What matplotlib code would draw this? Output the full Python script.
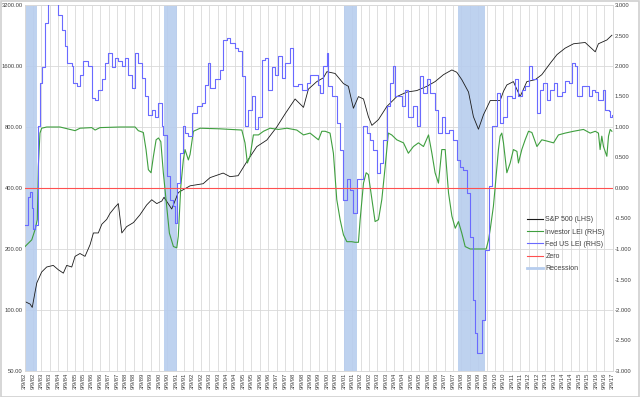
import matplotlib
matplotlib.use("Agg")
import matplotlib.pyplot as plt
from matplotlib.lines import Line2D
from matplotlib.patches import Rectangle
from matplotlib.ticker import FixedLocator, FuncFormatter, NullFormatter, NullLocator

plt.rcParams['font.family'] = ['Liberation Sans', 'DejaVu Sans']

# ---------------- data (decimal years) ----------------
spx_t = [1982.22, 1982.52, 1982.65, 1982.82, 1982.92, 1983.21, 1983.51, 1983.90, 1984.20, 1984.50,
         1984.70, 1985.00, 1985.20, 1985.49, 1985.79, 1986.09, 1986.29, 1986.58, 1986.79, 1987.08,
         1987.28, 1987.58, 1987.77, 1987.98, 1988.27, 1988.67, 1989.06, 1989.46, 1989.76, 1990.06,
         1990.36, 1990.49, 1990.95, 1991.34, 1992.04, 1992.82, 1993.23, 1994.01, 1994.42, 1994.90,
         1995.42, 1996.01, 1996.61, 1997.20, 1997.70, 1998.29, 1998.79, 1999.08, 1999.58, 1999.98,
         2000.18, 2000.67, 2001.17, 2001.46, 2001.76, 2002.06, 2002.36, 2002.65, 2002.86, 2003.25,
         2003.75, 2004.34, 2004.94, 2005.53, 2006.13, 2006.62, 2007.12, 2007.62, 2007.91, 2008.21,
         2008.61, 2008.90, 2009.20, 2009.50, 2009.66, 2009.90, 2010.49, 2010.69, 2010.89, 2011.28,
         2011.68, 2012.08, 2012.58, 2012.97, 2013.47, 2013.87, 2014.36, 2014.86, 2015.55, 2016.15,
         2016.34, 2016.84, 2017.14]
spx_v = [110, 107, 103, 123, 136, 154, 163, 166, 158, 152,
         166, 163, 184, 190, 184, 210, 240, 240, 265, 280,
         300, 322, 335, 240, 258, 270, 295, 330, 350, 335,
         345, 360, 315, 380, 410, 420, 450, 474, 455, 460,
         540, 640, 690, 800, 930, 1100, 1000, 1230, 1340, 1400,
         1500, 1470, 1310, 1270, 990, 1130, 1100, 900, 815, 870,
         1010, 1130, 1190, 1210, 1270, 1340, 1450, 1530, 1490, 1370,
         1190, 900, 780, 920, 980, 1080, 1080, 1200, 1290, 1340,
         1130, 1340, 1370, 1450, 1650, 1820, 1960, 2060, 2090, 1880,
         2060, 2150, 2270]

inv_t = [1982.22, 1982.62, 1982.82, 1982.95, 1983.01, 1983.11, 1983.21, 1983.51, 1984.30, 1984.89,
         1985.20, 1985.49, 1986.19, 1986.39, 1986.68, 1987.87, 1988.77, 1988.96, 1989.26, 1989.42,
         1989.56, 1989.72, 1989.86, 1990.02, 1990.16, 1990.30, 1990.45, 1990.65, 1990.81, 1991.05,
         1991.25, 1991.34, 1991.49, 1991.64, 1991.74, 1991.94, 1992.04, 1992.24, 1992.64, 1993.83,
         1995.12, 1995.31, 1995.45, 1995.61, 1995.81, 1996.11, 1996.41, 1996.80, 1997.30, 1997.80,
         1998.39, 1998.79, 1999.18, 1999.68, 1999.88, 2000.08, 2000.37, 2000.57, 2000.77, 2000.97,
         2001.17, 2001.37, 2001.66, 2001.86, 2002.06, 2002.16, 2002.36, 2002.52, 2002.65, 2002.86,
         2003.05, 2003.25, 2003.45, 2003.65, 2003.84, 2004.04, 2004.34, 2004.74, 2005.03, 2005.33,
         2005.63, 2005.93, 2006.23, 2006.43, 2006.62, 2006.82, 2007.02, 2007.22, 2007.42, 2007.62,
         2007.82, 2008.01, 2008.21, 2008.41, 2008.71, 2009.66, 2009.80, 2009.90, 2010.09, 2010.20,
         2010.39, 2010.49, 2010.59, 2010.69, 2010.89, 2011.09, 2011.28, 2011.49, 2011.58, 2011.78,
         2011.98, 2012.18, 2012.38, 2012.68, 2012.97, 2013.27, 2013.67, 2013.96, 2014.36, 2014.86,
         2015.45, 2015.85, 2016.15, 2016.34, 2016.44, 2016.54, 2016.64, 2016.84, 2016.94, 2017.04,
         2017.14]
inv_v = [-0.96, -0.85, -0.68, -0.52, 0.35, 0.90, 0.98, 1.00, 1.00, 0.96,
         0.94, 0.98, 0.99, 0.95, 0.99, 1.00, 1.00, 0.94, 0.91, 0.63,
         0.30, 0.25, 0.52, 0.79, 0.82, 0.76, 0.25, -0.30, -0.74, -0.96,
         -0.98, -0.79, 0.03, 0.46, 0.63, 0.46, 0.55, 0.93, 0.98, 0.97,
         0.95, 0.74, 0.41, 0.52, 0.87, 0.87, 0.93, 0.98, 0.96, 0.98,
         0.95, 0.87, 0.90, 0.79, 0.93, 0.93, 0.90, 0.57, -0.19, -0.52,
         -0.77, -0.88, -0.88, -0.89, -0.89, -0.52, 0.08, 0.25, 0.22, -0.19,
         -0.55, -0.52, -0.19, 0.35, 0.90, 0.87, 0.79, 0.74, 0.57, 0.68,
         0.74, 0.68, 0.87, 0.57, 0.25, 0.08, 0.63, 0.63, -0.08, -0.46,
         -0.66, -0.55, -0.74, -0.96, -1.00, -1.00, -0.85, -0.68, -0.30, 0.03,
         0.63, 0.85, 0.90, 0.74, 0.25, 0.41, 0.63, 0.60, 0.41, 0.63,
         0.79, 0.93, 0.91, 0.68, 0.79, 0.77, 0.74, 0.87, 0.90, 0.93,
         0.96, 0.90, 0.93, 0.90, 0.63, 0.85, 0.68, 0.52, 0.85, 0.96,
         0.93]

fed_t = [1982.22, 1982.42, 1982.52, 1982.62, 1982.71, 1982.82, 1983.01, 1983.11, 1983.21, 1983.41,
         1983.61, 1983.89, 1984.12, 1984.20, 1984.40, 1984.60, 1984.70, 1985.00, 1985.10, 1985.30,
         1985.49, 1985.69, 1985.99, 1986.19, 1986.39, 1986.58, 1986.79, 1986.98, 1987.18, 1987.38,
         1987.58, 1987.77, 1987.98, 1988.17, 1988.37, 1988.57, 1988.77, 1988.96, 1989.17, 1989.36,
         1989.56, 1989.76, 1989.96, 1990.16, 1990.36, 1990.45, 1990.65, 1990.85, 1991.05, 1991.15,
         1991.25, 1991.45, 1991.64, 1991.74, 1991.94, 1992.14, 1992.44, 1992.74, 1992.93, 1993.13,
         1993.23, 1993.53, 1993.83, 1994.02, 1994.22, 1994.42, 1994.72, 1994.92, 1995.12, 1995.31,
         1995.51, 1995.71, 1995.91, 1996.11, 1996.31, 1996.51, 1996.70, 1996.90, 1997.10, 1997.30,
         1997.50, 1997.70, 1997.99, 1998.19, 1998.49, 1998.69, 1998.99, 1999.18, 1999.48, 1999.68,
         1999.78, 1999.98, 2000.18, 2000.27, 2000.47, 2000.77, 2000.97, 2001.17, 2001.37, 2001.56,
         2001.76, 2001.96, 2002.16, 2002.36, 2002.56, 2002.75, 2002.95, 2003.15, 2003.35, 2003.55,
         2003.75, 2003.94, 2004.14, 2004.24, 2004.44, 2004.64, 2004.84, 2005.03, 2005.33, 2005.53,
         2005.73, 2005.93, 2006.13, 2006.33, 2006.62, 2006.82, 2007.02, 2007.22, 2007.42, 2007.71,
         2007.91, 2008.11, 2008.31, 2008.51, 2008.71, 2008.90, 2009.00, 2009.14, 2009.26, 2009.40,
         2009.60, 2009.80, 2010.00, 2010.30, 2010.49, 2010.69, 2010.89, 2011.19, 2011.39, 2011.58,
         2011.78, 2011.98, 2012.18, 2012.38, 2012.68, 2012.87, 2013.07, 2013.27, 2013.47, 2013.67,
         2013.87, 2014.17, 2014.36, 2014.56, 2014.76, 2014.96, 2015.06, 2015.36, 2015.55, 2015.75,
         2015.95, 2016.15, 2016.34, 2016.61, 2016.74, 2016.94, 2017.04, 2017.14]
fed_v = [-0.60, -0.14, -0.06, -0.33, -0.68, -0.60, 1.01, 1.72, 1.99, 2.70,
         3.10, 3.30, 3.10, 2.84, 2.59, 2.32, 2.05, 2.00, 1.72, 1.67,
         1.86, 2.08, 2.00, 1.48, 1.45, 1.61, 1.78, 2.05, 2.21, 1.98,
         2.13, 2.08, 2.00, 2.13, 1.86, 1.64, 2.21, 2.05, 1.80, 1.50,
         1.20, 1.28, 1.17, 1.39, 1.01, 0.87, 0.19, -0.19, -0.30, -0.57,
         0.08, 0.57, 1.01, 0.90, 0.85, 1.23, 1.34, 1.39, 1.69, 2.05,
         1.64, 1.78, 1.94, 2.43, 2.46, 2.38, 2.30, 2.25, 1.83, 1.01,
         1.28, 1.50, 0.96, 1.17, 2.10, 2.13, 1.61, 1.98, 1.85, 2.16,
         1.80, 2.05, 2.30, 1.67, 1.70, 1.61, 1.72, 1.86, 1.86, 1.69,
         1.56, 2.00, 2.21, 1.67, 1.50, 1.07, 0.63, -0.19, 0.14, -0.03,
         -0.41, 0.14, 0.14, 1.01, 0.90, 0.79, 0.63, 0.25, 0.41, 0.79,
         1.34, 1.72, 2.00, 1.50, 1.50, 1.34, 1.61, 1.17, 1.34, 1.01,
         1.83, 1.56, 1.78, 1.56, 1.28, 0.90, 1.17, 0.90, 0.95, 0.79,
         0.46, 0.35, 0.30, -0.08, -0.80, -1.83, -2.38, -2.71, -2.71, -2.16,
         -1.01, 0.03, 1.01, 1.56, 1.07, 1.17, 1.50, 1.48, 1.78, 1.50,
         1.60, 1.67, 2.00, 1.78, 1.23, 1.61, 1.72, 1.45, 1.61, 1.72,
         1.50, 1.58, 1.75, 1.72, 2.05, 2.00, 1.50, 1.67, 1.67, 1.50,
         1.61, 1.58, 1.45, 1.61, 1.28, 1.26, 1.17, 1.20]

rec_start = [1982.19, 1990.51, 2001.21, 2007.99]
rec_end = [1982.95, 1991.29, 2001.99, 2009.60]

left_ticks = [50, 100, 200, 400, 800, 1600, 3200]
right_ticks = [-3.0, -2.5, -2.0, -1.5, -1.0, -0.5, 0.0, 0.5, 1.0, 1.5, 2.0, 2.5, 3.0]
first_year, last_year = 1982, 2017

# ---------------- styling ----------------
C_SPX = "#1a1a1a"
C_INV = "#3f9f3f"
C_FED = "#6a6aff"
C_ZERO = "#ff5050"
C_REC = "#b7cdee"
C_GRID = "#d9d9d9"
C_TXT = "#404040"
FS = 4.2

fig = plt.figure(figsize=(6.4, 3.97), dpi=100)
ax = fig.add_axes([24.5 / 640, 1 - 371 / 397, (612.7 - 24.5) / 640, (371 - 5) / 397])
ax2 = ax.twinx()

# x ticks every 6 months: 3/9 and 9/9
xt, xl = [], []
for y in range(first_year, last_year + 1):
    for m in (3, 9):
        if y == last_year and m == 9:
            continue
        xt.append(y + (m - 1 + 8 / 30) / 12)
        xl.append(f"{m}/9/{y % 100:02d}")
x0, x1 = xt[0], xt[-1]

# recession bands
for s, e in zip(rec_start, rec_end):
    ax.axvspan(max(s, x0), e, color=C_REC, alpha=0.9, lw=0, zorder=1)

ax.plot(spx_t, spx_v, color=C_SPX, lw=0.6, zorder=5)
ax.set_yscale("log", base=2)
ax.set_ylim(50, 3200)
ax.yaxis.set_major_locator(FixedLocator(left_ticks))
ax.yaxis.set_minor_locator(NullLocator())
ax.yaxis.set_major_formatter(FuncFormatter(lambda v, p: f"{v:.2f}"))
ax.yaxis.set_minor_formatter(NullFormatter())
ax.set_xlim(x0, x1)
ax.set_xticks(xt)
ax.set_xticklabels(xl, rotation=90)
ax.grid(True, color=C_GRID, lw=0.6, zorder=0)
ax.set_axisbelow(True)

ax2.plot(inv_t, inv_v, color=C_INV, lw=0.8, zorder=3)
ax2.step(fed_t, fed_v, where="post", color=C_FED, lw=0.8, zorder=3)
ax2.axhline(0, color=C_ZERO, lw=0.8, zorder=4)
ax2.set_ylim(-3, 3)
ax2.set_yticks(right_ticks)
ax2.yaxis.set_major_formatter(FuncFormatter(lambda v, p: f"{v:.3f}"))
ax2.set_xlim(x0, x1)

for a in (ax, ax2):
    a.tick_params(length=0, labelsize=FS, colors=C_TXT, pad=1.2)
    for sp in a.spines.values():
        sp.set_color(C_GRID)
        sp.set_linewidth(0.6)

handles = [Line2D([], [], color=C_SPX, lw=0.8),
           Line2D([], [], color=C_INV, lw=0.8),
           Line2D([], [], color=C_FED, lw=0.8),
           Line2D([], [], color=C_ZERO, lw=0.8),
           Line2D([], [], color=C_REC, lw=2)]
labels = ["S&P 500 (LHS)", "Investor LEI (RHS)", "Fed US LEI (RHS)", "Zero", "Recession"]
leg = ax2.legend(handles, labels, loc="upper left", bbox_to_anchor=(0.85, 0.43),
                 frameon=False, fontsize=FS + 0.8, handlelength=2.2, handletextpad=0.4,
                 labelspacing=0.75, borderaxespad=0)
for t in leg.get_texts():
    t.set_color(C_TXT)

fig.patches.append(Rectangle((0.001, 0.001), 0.998, 0.996, transform=fig.transFigure,
                             fill=False, edgecolor="#d0d0d0", lw=1.2))

fig.savefig("out.png", dpi=100)
